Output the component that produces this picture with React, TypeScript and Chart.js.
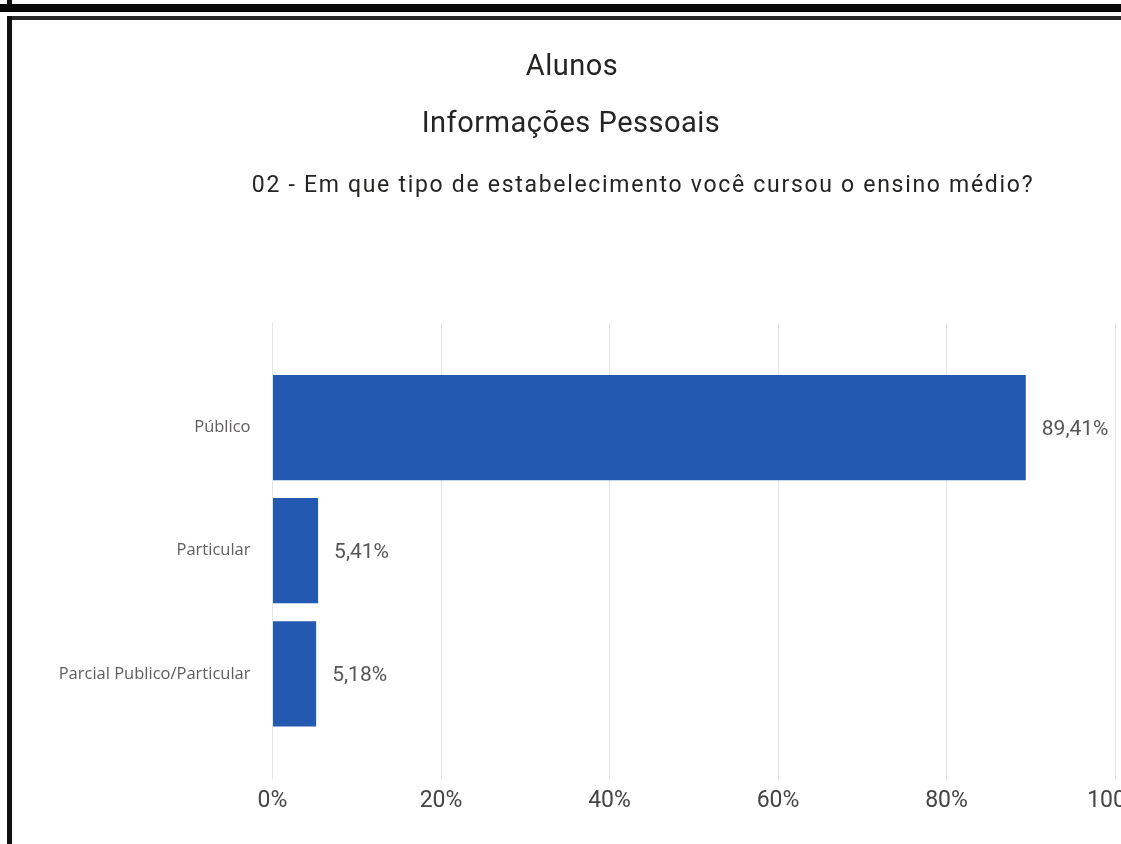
import { useEffect, useRef } from 'react';
import { Chart, registerables } from 'chart.js';

Chart.register(...registerables);

const categories = ['Público', 'Particular', 'Parcial Publico/Particular'];
const percentages = [89.41, 5.41, 5.18];
const xTickValues = [0, 20, 40, 60, 80, 100];
const titleLines = ['Alunos', 'Informações Pessoais'];
const questionText = '02 - Em que tipo de estabelecimento você cursou o ensino médio?';

const formatPct = (v: number) => v.toFixed(2).replace('.', ',') + '%';

export default function App() {
  const ref = useRef<HTMLCanvasElement>(null);

  useEffect(() => {
    if (!ref.current) return;
    const valueLabels = {
      id: 'valueLabels',
      afterDatasetsDraw(chart: any) {
        const ctx = chart.ctx;
        const meta = chart.getDatasetMeta(0);
        ctx.save();
        ctx.font = '21px Roboto';
        ctx.fillStyle = '#555555';
        ctx.textBaseline = 'middle';
        ctx.textAlign = 'left';
        meta.data.forEach((el: any, i: number) => {
          ctx.fillText(formatPct(percentages[i]), el.x + 16, el.y + 2);
        });
        ctx.restore();
      },
    };

    const setTicks = (s: any) => {
      s.ticks = xTickValues.map((v) => ({ value: v }));
    };

    const chart = new Chart(ref.current, {
      type: 'bar',
      data: {
        labels: categories,
        datasets: [
          {
            data: percentages,
            backgroundColor: '#2359B0',
            categoryPercentage: 1,
            barPercentage: 0.854,
          },
        ],
      },
      options: {
        indexAxis: 'y',
        responsive: false,
        animation: false,
        layout: { padding: { top: 323, right: 45, bottom: 21, left: 0 } },
        plugins: { legend: { display: false }, tooltip: { enabled: false } },
        scales: {
          x: {
            type: 'linear',
            min: 0,
            max: 100,
            position: 'bottom',
            afterBuildTicks: setTicks,
            ticks: {
              callback: (v: any) => v + '%',
              font: { family: 'Roboto', size: 23 },
              color: '#444444',
              padding: 8,
              maxRotation: 0,
              autoSkip: false,
            },
            grid: { color: '#e4e4e4', tickLength: 44, drawTicks: true },
            border: { display: false },
          },
          xTop: {
            type: 'linear',
            min: 0,
            max: 100,
            position: 'top',
            afterBuildTicks: setTicks,
            ticks: { display: false },
            grid: { color: '#e4e4e4', tickLength: 43, drawOnChartArea: false },
            border: { display: false },
          },
          y: {
            type: 'category',
            grid: { display: false, drawTicks: false },
            border: { display: false },
            ticks: {
              font: { family: 'Open Sans', size: 16.5 },
              color: '#605E5C',
              padding: 22,
            },
            afterFit: (s: any) => {
              s.width = 272.5;
            },
          },
        },
      } as any,
      plugins: [valueLabels],
    });
    return () => chart.destroy();
  }, []);

  const titleStyle: any = {
    position: 'absolute',
    transform: 'translateX(-50%)',
    whiteSpace: 'nowrap',
    fontFamily: 'Roboto, sans-serif',
    color: '#252423',
  };

  return (
    <div
      style={{
        position: 'absolute',
        left: 0,
        top: 0,
        width: 1121,
        height: 844,
        overflow: 'hidden',
        background: '#ffffff',
      }}
    >
      <canvas
        ref={ref}
        width={1160}
        height={844}
        style={{ position: 'absolute', left: 0, top: 0, width: 1160, height: 844 }}
      />
      <div style={{ ...titleStyle, left: 572, top: 51, fontSize: 29, lineHeight: '29px', letterSpacing: '0.5px' }}>
        {titleLines[0]}
      </div>
      <div style={{ ...titleStyle, left: 571, top: 108, fontSize: 29, lineHeight: '29px', letterSpacing: '0.5px' }}>
        {titleLines[1]}
      </div>
      <div style={{ ...titleStyle, left: 643, top: 173, fontSize: 23, lineHeight: '23px', letterSpacing: '1.7px' }}>
        {questionText}
      </div>
      {/* upper panel edge */}
      <div style={{ position: 'absolute', left: 7, top: 0, width: 5, height: 5, background: '#111' }} />
      <div style={{ position: 'absolute', left: 0, top: 4, width: 1121, height: 8, background: '#0a0a0a' }} />
      {/* lower panel frame */}
      <div style={{ position: 'absolute', left: 7, top: 16, width: 1114, height: 4, background: '#2a2a2a' }} />
      <div style={{ position: 'absolute', left: 7, top: 16, width: 5, height: 828, background: '#111' }} />
    </div>
  );
}
